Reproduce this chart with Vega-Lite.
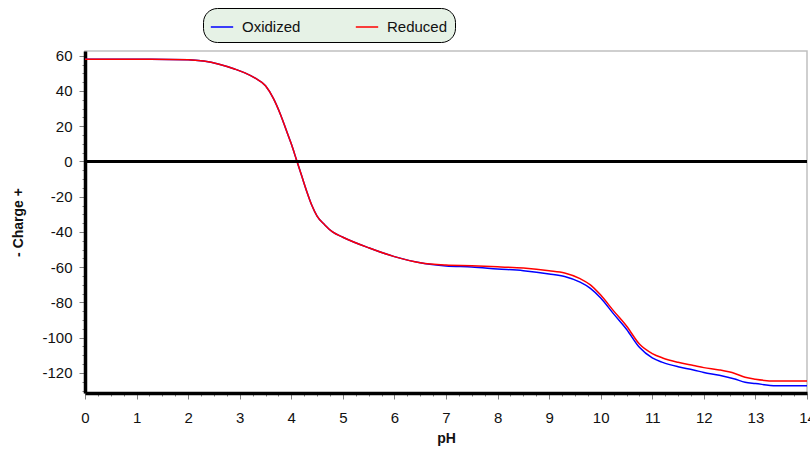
{
  "$schema": "https://vega.github.io/schema/vega-lite/v6.json",
  "autosize": "none",
  "width": 722,
  "height": 342,
  "padding": {"left": 85, "top": 51, "right": 3, "bottom": 58},
  "background": "white",
  "config": {
    "view": {"stroke": "#c0c0c0", "strokeWidth": 1.5},
    "axis": {
      "domainColor": "black",
      "domainWidth": 3.5,
      "tickColor": "#808080",
      "tickWidth": 1,
      "grid": false,
      "labelFont": "Liberation Sans",
      "labelFontSize": 15,
      "labelColor": "#111111",
      "titleFont": "Liberation Sans",
      "titleFontSize": 14,
      "titleFontWeight": "bold",
      "titleColor": "#111111"
    }
  },
  "data": {
    "values": [
      {"pH": 0, "charge": 58, "series": "Oxidized"},
      {"pH": 1, "charge": 58, "series": "Oxidized"},
      {"pH": 2, "charge": 57.8, "series": "Oxidized"},
      {"pH": 2.3, "charge": 57, "series": "Oxidized"},
      {"pH": 2.6, "charge": 55.2, "series": "Oxidized"},
      {"pH": 2.9, "charge": 52.5, "series": "Oxidized"},
      {"pH": 3.1, "charge": 50.3, "series": "Oxidized"},
      {"pH": 3.3, "charge": 47.3, "series": "Oxidized"},
      {"pH": 3.5, "charge": 43, "series": "Oxidized"},
      {"pH": 3.65, "charge": 36, "series": "Oxidized"},
      {"pH": 3.8, "charge": 26, "series": "Oxidized"},
      {"pH": 3.9, "charge": 18, "series": "Oxidized"},
      {"pH": 4.0, "charge": 10, "series": "Oxidized"},
      {"pH": 4.1, "charge": 1, "series": "Oxidized"},
      {"pH": 4.2, "charge": -8, "series": "Oxidized"},
      {"pH": 4.3, "charge": -17, "series": "Oxidized"},
      {"pH": 4.4, "charge": -25, "series": "Oxidized"},
      {"pH": 4.5, "charge": -31, "series": "Oxidized"},
      {"pH": 4.65, "charge": -36, "series": "Oxidized"},
      {"pH": 4.8, "charge": -40, "series": "Oxidized"},
      {"pH": 5.0, "charge": -43, "series": "Oxidized"},
      {"pH": 5.5, "charge": -49, "series": "Oxidized"},
      {"pH": 6.0, "charge": -54, "series": "Oxidized"},
      {"pH": 6.5, "charge": -57.5, "series": "Oxidized"},
      {"pH": 7.0, "charge": -59.3, "series": "Oxidized"},
      {"pH": 7.5, "charge": -59.9, "series": "Oxidized"},
      {"pH": 8.0, "charge": -61, "series": "Oxidized"},
      {"pH": 8.5, "charge": -62, "series": "Oxidized"},
      {"pH": 9.0, "charge": -63.8, "series": "Oxidized"},
      {"pH": 9.3, "charge": -65.3, "series": "Oxidized"},
      {"pH": 9.6, "charge": -68.5, "series": "Oxidized"},
      {"pH": 9.8, "charge": -72, "series": "Oxidized"},
      {"pH": 10.0, "charge": -77.5, "series": "Oxidized"},
      {"pH": 10.25, "charge": -86.5, "series": "Oxidized"},
      {"pH": 10.5, "charge": -95.2, "series": "Oxidized"},
      {"pH": 10.75, "charge": -105.5, "series": "Oxidized"},
      {"pH": 11.0, "charge": -111.5, "series": "Oxidized"},
      {"pH": 11.2, "charge": -114, "series": "Oxidized"},
      {"pH": 11.5, "charge": -116.5, "series": "Oxidized"},
      {"pH": 11.8, "charge": -118.3, "series": "Oxidized"},
      {"pH": 12.0, "charge": -119.8, "series": "Oxidized"},
      {"pH": 12.3, "charge": -121.3, "series": "Oxidized"},
      {"pH": 12.6, "charge": -123.5, "series": "Oxidized"},
      {"pH": 12.8, "charge": -125.3, "series": "Oxidized"},
      {"pH": 13.0, "charge": -126, "series": "Oxidized"},
      {"pH": 13.4, "charge": -127.3, "series": "Oxidized"},
      {"pH": 14.0, "charge": -127.3, "series": "Oxidized"},
      {"pH": 0, "charge": 58, "series": "Reduced"},
      {"pH": 1, "charge": 58, "series": "Reduced"},
      {"pH": 2, "charge": 57.8, "series": "Reduced"},
      {"pH": 2.3, "charge": 57, "series": "Reduced"},
      {"pH": 2.6, "charge": 55.2, "series": "Reduced"},
      {"pH": 2.9, "charge": 52.5, "series": "Reduced"},
      {"pH": 3.1, "charge": 50.3, "series": "Reduced"},
      {"pH": 3.3, "charge": 47.3, "series": "Reduced"},
      {"pH": 3.5, "charge": 43, "series": "Reduced"},
      {"pH": 3.65, "charge": 36, "series": "Reduced"},
      {"pH": 3.8, "charge": 26, "series": "Reduced"},
      {"pH": 3.9, "charge": 18, "series": "Reduced"},
      {"pH": 4.0, "charge": 10, "series": "Reduced"},
      {"pH": 4.1, "charge": 1, "series": "Reduced"},
      {"pH": 4.2, "charge": -8, "series": "Reduced"},
      {"pH": 4.3, "charge": -17, "series": "Reduced"},
      {"pH": 4.4, "charge": -25, "series": "Reduced"},
      {"pH": 4.5, "charge": -31, "series": "Reduced"},
      {"pH": 4.65, "charge": -36, "series": "Reduced"},
      {"pH": 4.8, "charge": -40, "series": "Reduced"},
      {"pH": 5.0, "charge": -43, "series": "Reduced"},
      {"pH": 5.5, "charge": -49, "series": "Reduced"},
      {"pH": 6.0, "charge": -54, "series": "Reduced"},
      {"pH": 6.5, "charge": -57.5, "series": "Reduced"},
      {"pH": 7.0, "charge": -58.8, "series": "Reduced"},
      {"pH": 7.5, "charge": -59.2, "series": "Reduced"},
      {"pH": 8.0, "charge": -59.8, "series": "Reduced"},
      {"pH": 8.5, "charge": -60.5, "series": "Reduced"},
      {"pH": 9.0, "charge": -62, "series": "Reduced"},
      {"pH": 9.3, "charge": -63.3, "series": "Reduced"},
      {"pH": 9.6, "charge": -66.5, "series": "Reduced"},
      {"pH": 9.8, "charge": -70, "series": "Reduced"},
      {"pH": 10.0, "charge": -75.8, "series": "Reduced"},
      {"pH": 10.25, "charge": -84.8, "series": "Reduced"},
      {"pH": 10.5, "charge": -93.4, "series": "Reduced"},
      {"pH": 10.75, "charge": -103.6, "series": "Reduced"},
      {"pH": 11.0, "charge": -109, "series": "Reduced"},
      {"pH": 11.2, "charge": -111.5, "series": "Reduced"},
      {"pH": 11.5, "charge": -114, "series": "Reduced"},
      {"pH": 11.8, "charge": -115.8, "series": "Reduced"},
      {"pH": 12.0, "charge": -117, "series": "Reduced"},
      {"pH": 12.3, "charge": -118.3, "series": "Reduced"},
      {"pH": 12.6, "charge": -120.3, "series": "Reduced"},
      {"pH": 12.8, "charge": -122.5, "series": "Reduced"},
      {"pH": 13.0, "charge": -123.6, "series": "Reduced"},
      {"pH": 13.4, "charge": -124.6, "series": "Reduced"},
      {"pH": 14.0, "charge": -124.6, "series": "Reduced"}
    ]
  },
  "layer": [
    {
      "mark": {"type": "line", "strokeWidth": 1.5, "interpolate": "monotone"},
      "encoding": {
        "x": {
          "field": "pH",
          "type": "quantitative",
          "title": "pH",
          "scale": {"domain": [0, 14], "nice": false},
          "axis": {
            "values": [0,0.25,0.5,0.75,1,1.25,1.5,1.75,2,2.25,2.5,2.75,3,3.25,3.5,3.75,4,4.25,4.5,4.75,5,5.25,5.5,5.75,6,6.25,6.5,6.75,7,7.25,7.5,7.75,8,8.25,8.5,8.75,9,9.25,9.5,9.75,10,10.25,10.5,10.75,11,11.25,11.5,11.75,12,12.25,12.5,12.75,13,13.25,13.5,13.75,14],
            "labelExpr": "datum.value % 1 === 0 ? '' + datum.value : ''",
            "tickSize": {"condition": {"test": "datum.value % 1 === 0", "value": 6}, "value": 3},
            "labelPadding": 11,
            "labelFlush": false,
            "labelOverlap": false,
            "titlePadding": 6
          }
        },
        "y": {
          "field": "charge",
          "type": "quantitative",
          "title": "- Charge +",
          "scale": {"domain": [-131.4, 62.7], "nice": false, "zero": false},
          "axis": {
            "values": [-130,-125,-120,-115,-110,-105,-100,-95,-90,-85,-80,-75,-70,-65,-60,-55,-50,-45,-40,-35,-30,-25,-20,-15,-10,-5,0,5,10,15,20,25,30,35,40,45,50,55,60],
            "labelExpr": "datum.value % 20 === 0 ? '' + datum.value : ''",
            "tickSize": {"condition": {"test": "datum.value % 20 === 0", "value": 6}, "value": 3},
            "labelPadding": 7,
            "labelOverlap": false,
            "labelFlush": false,
            "titlePadding": 16
          }
        },
        "color": {
          "field": "series",
          "type": "nominal",
          "scale": {"domain": ["Oxidized", "Reduced"], "range": ["#0000ff", "#ff0000"]},
          "legend": {
            "title": null,
            "orient": "none",
            "legendX": 118,
            "legendY": -43,
            "direction": "horizontal",
            "fillColor": "#e6f2e6",
            "strokeColor": "black",
            "cornerRadius": 14,
            "padding": 7,
            "symbolType": "stroke",
            "symbolStrokeWidth": 1.5,
            "symbolSize": 500,
            "labelFont": "Liberation Sans",
            "labelFontSize": 15,
            "labelColor": "#111111",
            "columnPadding": 51,
            "labelOffset": 8
          }
        }
      }
    },
    {
      "mark": {"type": "rule", "color": "black", "strokeWidth": 2.5},
      "encoding": {
        "y": {
          "datum": 0,
          "type": "quantitative",
          "title": "- Charge +",
          "axis": {
            "values": [-130,-125,-120,-115,-110,-105,-100,-95,-90,-85,-80,-75,-70,-65,-60,-55,-50,-45,-40,-35,-30,-25,-20,-15,-10,-5,0,5,10,15,20,25,30,35,40,45,50,55,60],
            "labelExpr": "datum.value % 20 === 0 ? '' + datum.value : ''",
            "tickSize": {"condition": {"test": "datum.value % 20 === 0", "value": 6}, "value": 3},
            "labelPadding": 7,
            "labelOverlap": false,
            "labelFlush": false,
            "titlePadding": 16
          }
        }
      }
    }
  ]
}
